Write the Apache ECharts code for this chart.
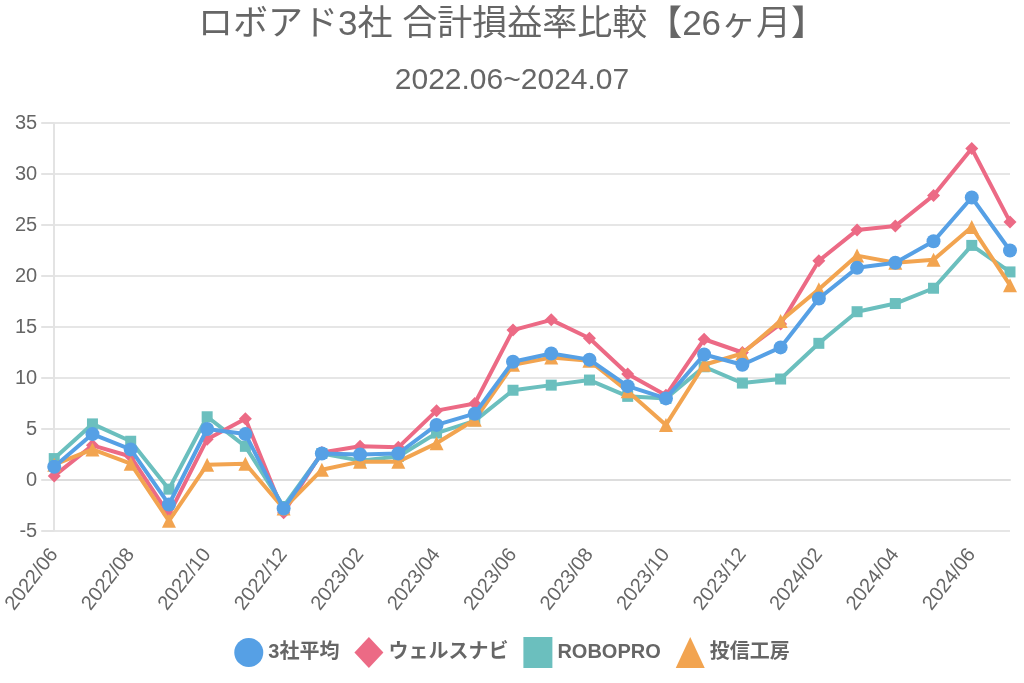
<!DOCTYPE html>
<html><head><meta charset="utf-8">
<script src="https://cdn.jsdelivr.net/npm/echarts@6/dist/echarts.min.js"></script>
<style>html,body{margin:0;padding:0;background:#fff}#c{width:1024px;height:683px}</style>
</head><body><div id="c"></div>
<script>
const categories = ['2022/06','2022/07','2022/08','2022/09','2022/10','2022/11','2022/12','2023/01','2023/02','2023/03','2023/04','2023/05','2023/06','2023/07','2023/08','2023/09','2023/10','2023/11','2023/12','2024/01','2024/02','2024/03','2024/04','2024/05','2024/06','2024/07'];
const avg3 = [1.3,4.5,3.0,-2.4,5.0,4.5,-2.8,2.6,2.5,2.6,5.4,6.5,11.6,12.4,11.8,9.2,8.0,12.3,11.3,13.0,17.8,20.8,21.3,23.4,27.7,22.5];
const wealthNavi = [0.4,3.4,2.3,-3.4,4.0,6.0,-3.2,2.7,3.3,3.2,6.8,7.5,14.7,15.7,13.9,10.4,8.3,13.8,12.5,15.3,21.5,24.5,24.9,27.9,32.5,25.3];
const roboPro = [2.1,5.5,3.8,-0.9,6.2,3.3,-2.6,2.6,1.9,2.3,4.6,5.8,8.8,9.3,9.8,8.2,8.0,11.1,9.5,9.9,13.4,16.5,17.3,18.8,23.0,20.4];
const toshinKobo = [1.5,3.0,1.6,-4.0,1.5,1.6,-2.8,1.0,1.8,1.8,3.6,5.9,11.3,12.0,11.7,8.7,5.4,11.3,12.4,15.6,18.7,22.0,21.3,21.6,24.8,19.1];
const seriesNames = ['3社平均','ウェルスナビ','ROBOPRO','投信工房'];
const yTicks = {min:-5, max:35, interval:5};

const colors = ['#56A0E5','#EC6A85','#6BBFBE','#F2A450'];
const symbols = ['circle','diamond','rect','triangle'];
const datas = [avg3, wealthNavi, roboPro, toshinKobo];
const font = '"Liberation Sans", Arial, "Noto Sans CJK JP", sans-serif';

const chart = echarts.init(document.getElementById('c'));
chart.setOption({
  animation:false,
  color: colors,
  title:[
    {text:'ロボアド3社 合計損益率比較【26ヶ月】', left:'center', top:3, textStyle:{fontFamily:font, fontSize:35, fontWeight:'normal', color:'#666'}},
    {text:'2022.06~2024.07', left:'center', top:61, textStyle:{fontFamily:font, fontSize:30, fontWeight:'normal', color:'#666'}}
  ],
  legend:{
    bottom:10, left:'center', itemWidth:29, itemHeight:31, itemGap:15,
    textStyle:{fontFamily:font, fontSize:20, fontWeight:'bold', color:'#666'},
    data: seriesNames.map((n,i)=>({name:n, icon:symbols[i]}))
  },
  grid:{left:52, right:14, top:123, bottom:152, containLabel:false},
  xAxis:{
    type:'category', data:categories, boundaryGap:false,
    axisLine:{show:true, lineStyle:{color:'#ddd', width:2}},
    axisTick:{show:false},
    splitLine:{show:false},
    axisLabel:{interval:1, rotate:52, color:'#666', fontSize:20, fontFamily:font, margin:20}
  },
  yAxis:{
    type:'value', min:yTicks.min, max:yTicks.max, interval:yTicks.interval,
    axisLine:{show:true, lineStyle:{color:'#e3e3e3', width:2}},
    axisTick:{show:true, length:13, lineStyle:{color:'#e3e3e3', width:2}},
    splitLine:{lineStyle:{color:'#e6e6e6', width:2}},
    axisLabel:{color:'#666', fontSize:20, fontFamily:font, margin:17}
  },
  series: seriesNames.map((n,i)=>({
    name:n, type:'line', data:datas[i], symbol:symbols[i],
    symbolSize: i===0?14:(i===1?13:(i===2?11:14)),
    lineStyle:{width:4, color:colors[i]},
    itemStyle:{color:colors[i]},
    z: [5,3,2,4][i]
  }))
});
</script></body></html>
